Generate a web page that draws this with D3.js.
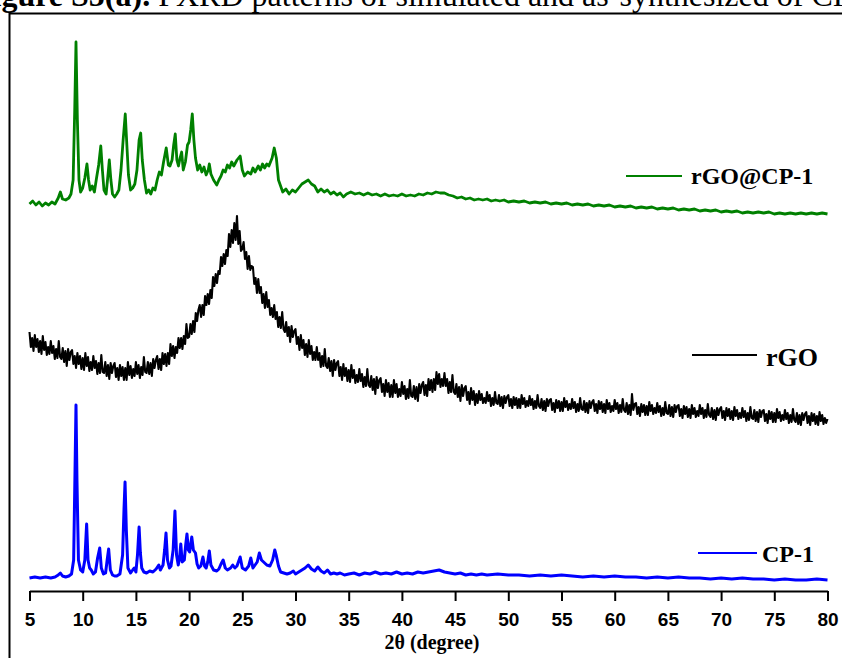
<!DOCTYPE html>
<html><head><meta charset="utf-8">
<script src="https://cdn.jsdelivr.net/npm/d3@7/dist/d3.min.js"></script>
<style>body{margin:0;background:#fff;}svg{display:block;}</style>
</head><body>
<svg id="c" width="842" height="658"></svg>
<script>
// ---- data ----
const xTicks = [5,10,15,20,25,30,35,40,45,50,55,60,65,70,75,80];
const xLabel = "2θ (degree)";
const titleBold = "Figure S5(a).";
const titleRest = " PXRD patterns of simulated and as-synthesized of CP-1";
const seriesNames = ["rGO@CP-1", "rGO", "CP-1"];
const seriesColors = ["#008000", "#000000", "#0000ff"];

// rGO: intensity (a.u., stacked) sampled every 0.125° from 5° to 80° (8 values per degree)
const rgoStart = 5, rgoStep = 0.125;
const rgoValues = [
258,243,252,239,255,243,251,238, 249,236,254,240,248,235,243,236, 249,237,244,231,241,232,249,233,
231,242,228,239,224,241,230,238, 240,226,234,222,237,226,234,221, 232,220,237,224,233,219,228,220,
234,222,229,216,227,217,235,218, 217,228,214,225,211,227,217,224, 227,213,222,210,225,214,223,210,
222,210,228,215,224,212,221,214, 228,216,225,212,223,215,233,218, 217,228,216,227,214,231,222,230,
234,221,231,220,237,226,236,224, 237,226,246,234,244,232,243,237, 252,242,252,241,254,246,266,252,
253,266,256,269,258,277,269,280, 285,273,285,275,294,285,296,286, 300,292,313,304,316,307,319,316,
333,324,336,326,340,334,356,343, 360,347,367,350,374,346,359,339, 341,348,331,338,321,334,320,324,
323,306,312,297,311,297,303,287, 296,282,298,283,290,275,282,273, 285,271,278,263,273,262,278,261,
258,268,254,263,248,264,253,259, 261,246,253,240,255,242,250,235, 246,233,250,236,244,230,238,230,
243,230,237,223,234,224,241,224, 222,232,219,229,214,230,220,227, 229,214,223,210,226,214,222,209,
220,208,225,212,220,207,215,208, 221,209,216,203,213,204,221,205, 203,214,200,211,196,213,202,210,
212,198,206,194,210,198,207,193, 205,193,210,197,206,193,201,194, 208,196,204,191,201,192,210,194,
193,204,191,203,189,206,197,205, 208,195,205,194,211,200,210,198, 211,200,218,206,216,203,211,204,
217,204,211,197,208,198,215,198, 196,206,193,203,189,205,194,202, 204,190,198,186,202,190,199,185,
196,187,199,190,196,187,192,187, 198,189,195,184,192,185,198,187, 186,195,184,193,182,194,187,193,
195,184,191,182,193,185,192,182, 191,182,195,186,192,183,189,184, 194,185,191,181,189,182,195,184,
182,191,180,189,179,191,184,190, 191,180,187,178,190,182,189,179, 188,179,192,183,189,180,186,181,
191,182,188,178,186,179,192,181, 180,189,178,187,177,189,182,188, 190,179,186,177,189,181,188,178,
186,177,190,181,187,178,184,179, 190,181,187,177,185,178,191,180, 178,187,176,185,175,196,180,186,
187,176,183,174,186,178,185,175, 184,175,188,179,185,176,182,177, 187,178,184,174,182,175,188,177,
176,185,174,183,173,185,178,184, 185,174,181,172,184,176,183,173, 181,172,185,176,182,173,179,174,
185,176,182,172,180,173,186,175, 173,182,171,180,170,182,175,181, 183,172,179,170,182,174,181,171,
179,170,183,174,180,171,177,172, 182,173,179,169,177,170,183,172, 171,180,169,178,168,180,173,179,
180,169,176,167,179,171,178,168, 177,168,181,172,178,169,175,170, 180,171,177,167,175,168,181,170,
168,177,166,175,165,177,170,176, 178,167,174,165,177,169,176,166, 174,165,178,169,175,166,172,167,
171
];

// rGO@CP-1: [2θ, intensity]
const rgoCp1 = [
[5.0,386],[5.3,389],[5.6,385],[5.9,388],[6.2,384],[6.5,387],[6.8,385],[7.1,388],[7.4,386],[7.7,392],
[7.9,398],[8.1,391],[8.4,390],[8.7,392],[8.9,396],[9.1,410],[9.25,480],[9.37,548],[9.5,470],[9.65,410],
[9.8,398],[10.0,402],[10.2,412],[10.4,426],[10.55,410],[10.7,400],[10.9,404],[11.1,398],[11.3,412],[11.5,425],
[11.7,444],[11.85,420],[12.0,400],[12.2,396],[12.35,412],[12.5,430],[12.65,410],[12.8,396],[13.0,393],[13.2,396],
[13.4,400],[13.6,420],[13.8,450],[14.0,476],[14.15,445],[14.3,415],[14.5,400],[14.7,402],[14.9,406],[15.1,420],
[15.3,450],[15.45,457],[15.6,430],[15.8,410],[16.0,397],[16.2,400],[16.4,396],[16.6,402],[16.8,400],[17.0,410],
[17.2,418],[17.4,415],[17.6,428],[17.85,442],[18.05,425],[18.2,424],[18.4,430],[18.55,445],[18.7,456],[18.85,430],
[19.0,424],[19.15,432],[19.3,438],[19.45,420],[19.65,428],[19.85,445],[20.0,448],[20.15,460],[20.3,476],[20.45,450],
[20.6,432],[20.8,420],[21.0,425],[21.2,418],[21.4,423],[21.6,415],[21.8,420],[21.9,426],[22.05,416],[22.3,410],
[22.6,405],[22.8,410],[23.0,414],[23.2,420],[23.4,418],[23.6,425],[23.8,422],[24.0,428],[24.2,424],[24.5,430],
[24.8,434],[25.0,420],[25.2,414],[25.5,418],[25.8,416],[26.0,422],[26.2,418],[26.5,424],[26.7,420],[26.9,426],
[27.1,422],[27.3,426],[27.5,424],[27.8,432],[28.0,442],[28.2,432],[28.4,410],[28.6,404],[28.8,398],[29.1,401],
[29.4,396],[29.7,400],[30.0,398],[30.3,402],[30.6,406],[30.9,408],[31.2,410],[31.5,406],[31.8,404],[32.1,398],
[32.4,401],[32.7,398],[33.0,400],[33.3,396],[33.6,398],[33.9,395],[34.2,397],[34.5,393],[34.8,396],[35.2,398],
[35.6,396],[36.0,397],[36.4,395],[36.8,397],[37.2,395],[37.6,396],[38.0,394],[38.4,396],[38.8,394],[39.2,395],
[39.6,394],[40.0,396],[40.4,394],[40.8,395],[41.2,394],[41.6,396],[42.0,395],[42.4,397],[42.8,396],[43.2,398],
[43.6,397],[44.0,397],[44.4,395],[44.8,394],[45.2,392],[45.6,393],[46.0,391],[46.4,392],[46.8,390],[47.2,391],
[47.6,390],[48.0,391],[48.4,389],[48.8,390],[49.2,389],[49.6,390],[50.0,388],[50.5,389],[51.0,388],[51.5,389],
[52.0,387],[52.5,388],[53.0,387],[53.5,388],[54.0,386],[54.5,387],[55.0,386],[55.5,387],[56.0,385],[56.5,386],
[57.0,385],[57.5,386],[58.0,384],[58.5,385],[59.0,384],[59.5,385],[60.0,383],[60.5,384],[61.0,383],[61.5,384],
[62.0,382],[62.5,383],[63.0,382],[63.5,383],[64.0,381],[64.5,382],[65.0,381],[65.5,382],[66.0,380],[66.5,381],
[67.0,380],[67.5,381],[68.0,379],[68.5,380],[69.0,379],[69.5,380],[70.0,378],[70.5,379],[71.0,378],[71.5,379],
[72.0,377],[72.5,378],[73.0,377],[73.5,378],[74.0,377],[74.5,378],[75.0,376],[75.5,377],[76.0,376],[76.5,377],
[77.0,376],[77.5,377],[78.0,376],[78.5,377],[79.0,376],[79.5,377],[80.0,376]
];

// CP-1: [2θ, intensity]
const cp1 = [
[5.0,12],[5.5,13],[6.0,12],[6.5,13],[7.0,12],[7.4,13],[7.7,15],[7.9,17],[8.1,14],[8.4,13],
[8.7,14],[8.95,16],[9.15,30],[9.28,120],[9.37,185],[9.46,110],[9.6,30],[9.8,20],[10.0,18],[10.2,30],
[10.37,66],[10.5,30],[10.65,22],[10.8,20],[11.0,16],[11.2,18],[11.4,32],[11.6,42],[11.75,22],[11.95,16],
[12.15,17],[12.3,30],[12.44,41],[12.6,20],[12.8,15],[13.0,14],[13.2,14],[13.5,16],[13.75,35],[13.88,80],
[13.98,108],[14.1,60],[14.25,22],[14.5,17],[14.7,20],[14.85,22],[15.0,18],[15.15,35],[15.3,63],[15.42,37],
[15.55,22],[15.75,18],[16.0,17],[16.3,19],[16.6,18],[16.9,21],[17.15,25],[17.3,20],[17.55,25],[17.7,40],
[17.83,57],[17.97,30],[18.15,22],[18.3,24],[18.5,40],[18.67,79],[18.82,35],[18.98,25],[19.1,32],[19.22,46],
[19.35,28],[19.55,30],[19.68,45],[19.8,56],[19.93,40],[20.05,38],[20.25,53],[20.4,40],[20.6,37],[20.75,26],
[20.9,22],[21.1,24],[21.3,33],[21.45,24],[21.6,22],[21.75,28],[21.9,39],[22.05,25],[22.3,20],[22.6,19],
[22.8,21],[23.0,26],[23.2,30],[23.4,22],[23.6,20],[23.9,22],[24.1,25],[24.3,22],[24.5,24],[24.8,33],
[25.0,22],[25.3,20],[25.6,24],[25.8,32],[26.0,22],[26.2,25],[26.4,28],[26.6,37],[26.8,30],[27.0,28],
[27.3,25],[27.6,24],[27.85,30],[28.05,40],[28.2,34],[28.4,24],[28.6,18],[28.9,17],[29.2,16],[29.5,17],
[29.8,19],[30.0,16],[30.3,18],[30.6,20],[30.9,22],[31.2,25],[31.5,21],[31.8,19],[32.1,23],[32.4,19],
[32.7,17],[33.0,20],[33.3,16],[33.6,17],[33.9,16],[34.2,17],[34.6,15],[35.0,16],[35.5,17],[36.0,15],
[36.5,17],[37.0,16],[37.5,18],[38.0,16],[38.5,17],[39.0,16],[39.5,18],[40.0,16],[40.5,17],[41.0,16],
[41.5,18],[42.0,17],[42.5,18],[43.0,19],[43.5,20],[44.0,18],[44.5,17],[45.0,16],[45.5,17],[46.0,15],
[46.5,16],[47.0,15],[47.5,16],[48.0,15],[49.0,16],[50.0,15],[51.0,15],[52.0,14],[53.0,15],[54.0,14],
[55.0,15],[56.0,14],[57.0,13],[58.0,14],[59.0,13],[60.0,14],[61.0,13],[62.0,13],[63.0,12],[64.0,13],
[65.0,12],[66.0,13],[67.0,12],[68.0,12],[69.0,11],[70.0,12],[71.0,11],[72.0,12],[73.0,11],[74.0,11],
[75.0,10],[76.0,11],[77.0,10],[78.0,10],[79.0,11],[80.0,10]
];

// ---- drawing ----
const svg = d3.select("#c");
const x = d3.scaleLinear().domain([5, 80]).range([29.5, 827.5]);
const y = d3.scaleLinear().domain([0, 580]).range([590, 10]);

// frame
svg.append("rect").attr("x", 9.5).attr("y", 13.5).attr("width", 900).attr("height", 700)
  .attr("fill", "#fff").attr("stroke", "#000").attr("stroke-width", 2);

// title (cropped at top)
const t = svg.append("text").attr("x", -27).attr("y", 6)
  .attr("font-family", "'Liberation Serif','Times New Roman',serif").attr("font-size", 32).attr("fill", "#000");
t.append("tspan").attr("font-weight", "bold").text(titleBold);
t.append("tspan").text(titleRest);

const line = d3.line().x(d => x(d[0])).y(d => y(d[1]));
const rgoData = rgoValues.map((v, i) => [rgoStart + i * rgoStep, v]);
const data = [rgoCp1, rgoData, cp1];
const widths = [2.8, 2.1, 3];

data.forEach((d, i) => {
  svg.append("path").datum(d).attr("d", line).attr("fill", "none")
    .attr("stroke", seriesColors[i]).attr("stroke-width", widths[i]).attr("stroke-linejoin", "round");
});

// axis
const ax = svg.append("g").attr("transform", "translate(0,591)")
  .call(d3.axisBottom(x).tickValues(xTicks).tickSize(10).tickSizeOuter(0).tickPadding(12).tickFormat(d3.format("d")));
ax.select(".domain").attr("stroke", "#000").attr("stroke-width", 2);
ax.selectAll(".tick line").attr("stroke", "#000").attr("stroke-width", 2);
ax.selectAll(".tick text").attr("font-family", "'Liberation Sans',Arial,sans-serif")
  .attr("font-size", 19).attr("font-weight", "bold").attr("fill", "#000");

svg.append("text").attr("x", 432).attr("y", 649).attr("text-anchor", "middle")
  .attr("font-family", "'Liberation Serif','Times New Roman',serif").attr("font-weight", "bold")
  .attr("font-size", 20).text(xLabel);

// legends
const legPos = [
  {x1: 626, x2: 682, y: 176, tx: 691, ty: 184, fs: 24},
  {x1: 692, x2: 757, y: 355, tx: 766, ty: 366, fs: 26},
  {x1: 698, x2: 757, y: 553, tx: 762, ty: 562, fs: 24}
];
legPos.forEach((p, i) => {
  svg.append("line").attr("x1", p.x1).attr("x2", p.x2).attr("y1", p.y).attr("y2", p.y)
    .attr("stroke", seriesColors[i]).attr("stroke-width", 2);
  svg.append("text").attr("x", p.tx).attr("y", p.ty)
    .attr("font-family", "'Liberation Serif','Times New Roman',serif").attr("font-weight", "bold")
    .attr("font-size", p.fs).attr("fill", "#000").text(seriesNames[i]);
});
</script>
</body></html>
